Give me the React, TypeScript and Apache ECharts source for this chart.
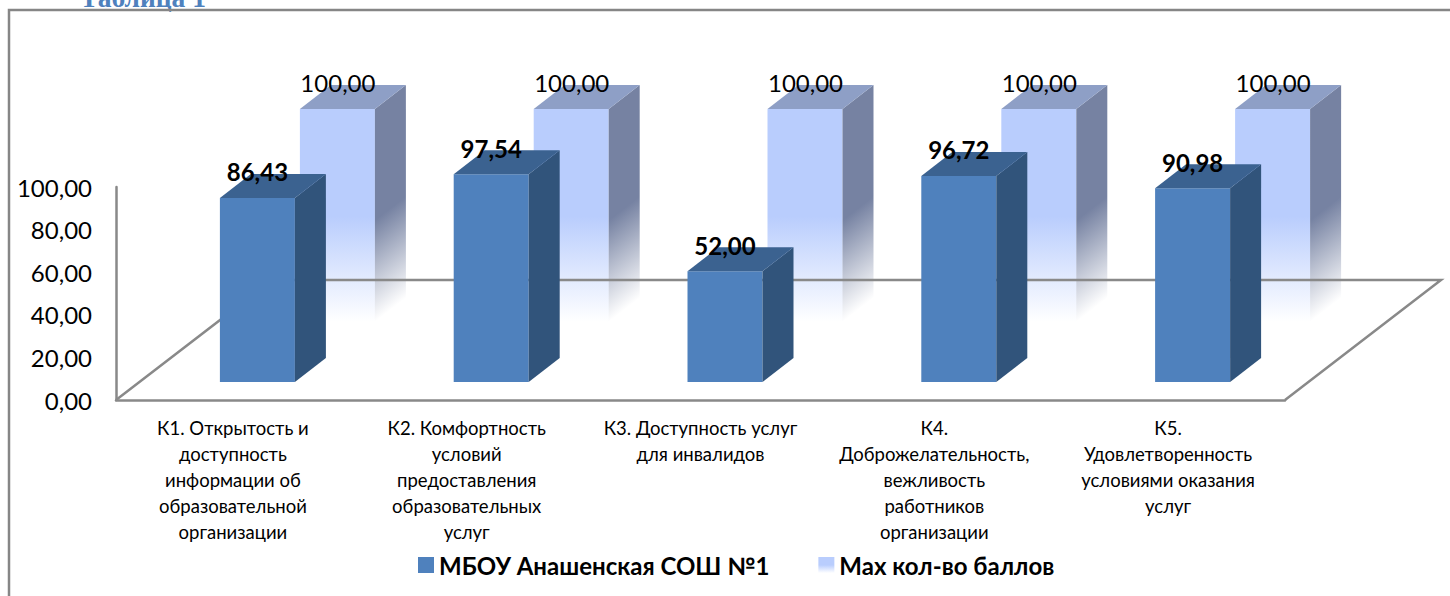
import React, { useEffect, useRef } from "react";
import * as echarts from "echarts";

const categories = [
  "К1. Открытость и\nдоступность\nинформации об\nобразовательной\nорганизации",
  "К2. Комфортность\nусловий\nпредоставления\nобразовательных\nуслуг",
  "К3. Доступность услуг\nдля инвалидов\n\n\n",
  "К4.\nДоброжелательность,\nвежливость\nработников\nорганизации",
  "К5.\nУдовлетворенность\nусловиями оказания\nуслуг\n",
];
const schoolValues = [86.43, 97.54, 52.0, 96.72, 90.98];
const maxValues = [100, 100, 100, 100, 100];
const yTicks = { min: 0, max: 100, interval: 20 };
const seriesNames = ["МБОУ Анашенская СОШ №1", "Мах кол-во баллов"];
const caption = "Таблица 1";

const W = 75;
const DX = 31;
const DY = 24;
const GRAY = "#898989";
const FONT = "Lato, 'Noto Sans', sans-serif";
const fmt = (v: number) => v.toFixed(2).replace(".", ",");

const lg = (x0: number, y0: number, x1: number, y1: number, c: string) =>
  new echarts.graphic.LinearGradient(
    x0, y0, x1, y1,
    [
      { offset: 0, color: c },
      { offset: 0.05, color: c },
      { offset: 1, color: c.slice(0, 7) + "00" },
    ],
    true
  );

function bar(api: any, dxFromCenter: number, dyFromAxis: number, kind: "front" | "back", labelFont: string) {
  const i = api.value(0);
  const v = api.value(1);
  const top = api.coord([i, v]);
  const zero = api.coord([i, 0]);
  const l = zero[0] + dxFromCenter;
  const r = l + W;
  const b = zero[1] + dyFromAxis;
  const t = top[1] + dyFromAxis;
  const fadeStart = b - 107;
  const n = 107 / (DY * DY + DX * DX);
  const ex = DY * DX * n;
  const ey = DX * DX * n;

  const faceFill = kind === "front" ? "#4f81bd" : lg(l, fadeStart - 4, l, b, "#b9cdfdff");
  const sideFill =
    kind === "front" ? "#31547b" : lg(r, fadeStart, r + ex, fadeStart + ey, "#7682a2ff");
  const topFill = kind === "front" ? "#3b6290" : "#8e9fc6";

  return {
    type: "group",
    children: [
      { type: "rect", shape: { x: l, y: t, width: W, height: b - t }, style: { fill: faceFill } },
      {
        type: "polygon",
        shape: { points: [[r, t], [r + DX, t - DY], [r + DX, b - DY], [r, b]] },
        style: { fill: sideFill },
      },
      {
        type: "polygon",
        shape: { points: [[l, t], [l + DX, t - DY], [r + DX, t - DY], [r, t]] },
        style: { fill: topFill },
      },
      {
        type: "text",
        x: l + W / 2 + (kind === "back" ? 0.5 : 0),
        y: t - (kind === "back" ? 27 : 26),
        style: { text: fmt(v), font: labelFont, fill: "#000", align: "center", verticalAlign: "middle" },
      },
    ],
  };
}

function floor(_p: any, api: any) {
  const band = api.size([1, 0])[0];
  const first = api.coord([0, 0]);
  const last = api.coord([categories.length - 1, 0]);
  const x0 = first[0] - band / 2;
  const x1 = last[0] + band / 2;
  const y = first[1];
  const style = { stroke: GRAY, lineWidth: 2.5, fill: "none" };
  return {
    type: "polyline",
    shape: { points: [[x0, y], [x0 + 156, y - 120], [x1 + 156, y - 120], [x1, y]] },
    style,
  };
}

export default function App() {
  const ref = useRef<HTMLDivElement>(null);
  useEffect(() => {
    const chart = echarts.init(ref.current!, null, { renderer: "svg" });
    chart.setOption({
      animation: false,
      backgroundColor: "#fff",
      textStyle: { fontFamily: FONT },
      grid: { left: 116, right: 165, top: 187, bottom: 196, containLabel: false },
      xAxis: {
        type: "category",
        data: categories,
        axisLine: { show: true, lineStyle: { color: GRAY, width: 2.5 } },
        axisTick: { show: false },
        axisLabel: {
          interval: 0,
          color: "#000",
          fontFamily: FONT,
          fontSize: 18.5,
          lineHeight: 26,
          margin: 15,
          verticalAlign: "top",
          align: "center",
        },
      },
      yAxis: {
        type: "value",
        ...yTicks,
        splitLine: { show: false },
        axisTick: { show: false },
        axisLine: { show: true, lineStyle: { color: GRAY, width: 2.5 } },
        axisLabel: {
          color: "#000",
          fontFamily: FONT,
          fontSize: 24,
          margin: 24,
          padding: [3, 0, 0, 0],
          formatter: (v: number) => fmt(v),
        },
      },
      legend: {
        show: true,
        left: 413,
        top: 548,
        icon: "rect",
        itemWidth: 16,
        itemHeight: 16,
        itemGap: 49,
        selectedMode: false,
        textStyle: { fontFamily: FONT, fontSize: 24, fontWeight: "bold", color: "#000" },
        data: [
          { name: seriesNames[0], itemStyle: { color: "#4f81bd" } },
          {
            name: seriesNames[1],
            itemStyle: {
              color: new echarts.graphic.LinearGradient(0, 0, 0, 1, [
                { offset: 0, color: "#b9cdfd" },
                { offset: 0.5, color: "#b9cdfd" },
                { offset: 1, color: "#ffffff" },
              ]),
            },
          },
        ],
      },
      graphic: [
        {
          type: "text",
          left: 80,
          top: -17,
          style: {
            text: caption,
            font: "bold 27.5px 'Liberation Serif', serif",
            fill: "#4f81bd",
          },
        },
        {
          type: "rect",
          shape: { x: 9, y: 10, width: 1500, height: 640 },
          style: { fill: "none", stroke: "#868686", lineWidth: 2.5 },
        },
      ],
      series: [
        {
          type: "custom",
          name: seriesNames[1],
          z: 1,
          itemStyle: { color: "#b9cdfd" },
          data: maxValues.map((v, i) => [i, v]),
          encode: { x: 0, y: 1 },
          renderItem: (_p: any, api: any) => bar(api, 67, -78, "back", `24px ${FONT}`),
        },
        {
          type: "custom",
          name: "floor",
          z: 2,
          silent: true,
          data: [[0, 0]],
          encode: { x: 0, y: 1 },
          renderItem: floor,
        },
        {
          type: "custom",
          name: seriesNames[0],
          z: 3,
          itemStyle: { color: "#4f81bd" },
          data: schoolValues.map((v, i) => [i, v]),
          encode: { x: 0, y: 1 },
          renderItem: (_p: any, api: any) => bar(api, -13, -18, "front", `bold 24px ${FONT}`),
        },
      ],
    });
    return () => chart.dispose();
  }, []);
  return <div ref={ref} style={{ position: "fixed", left: 0, top: 0, width: 1450, height: 596 }} />;
}
